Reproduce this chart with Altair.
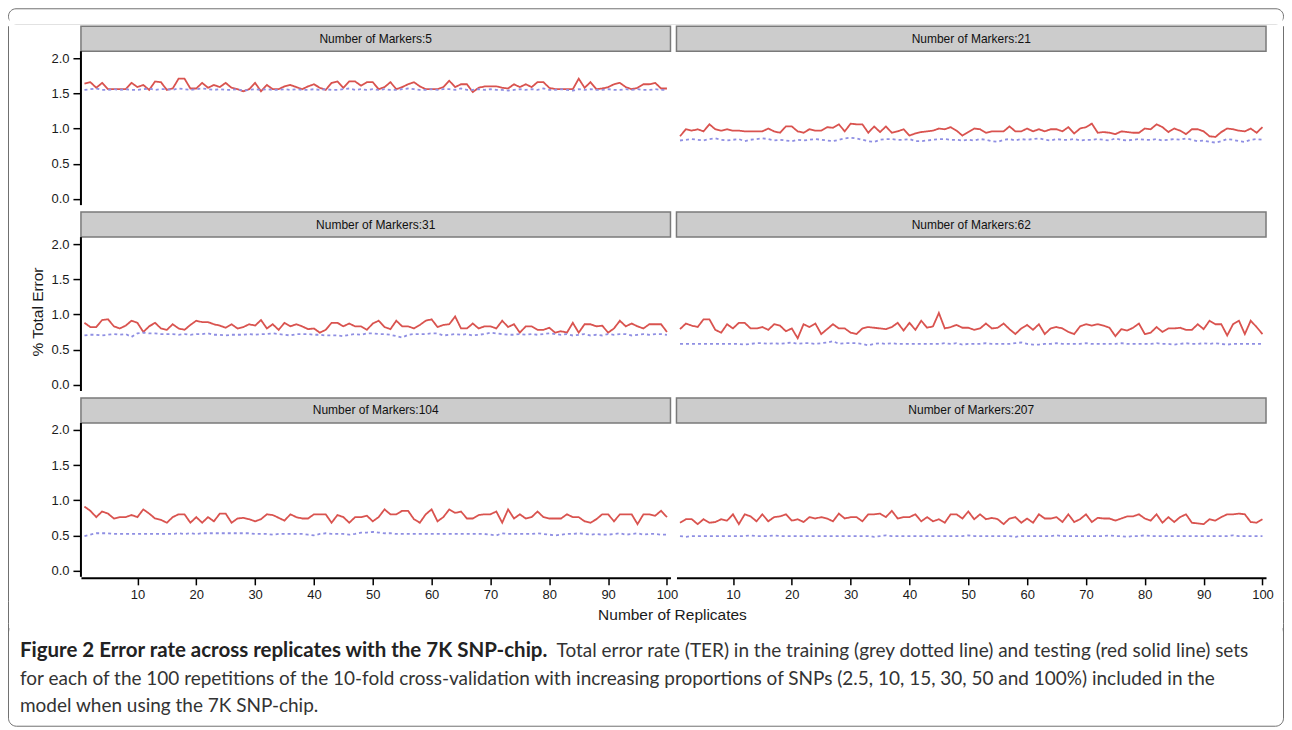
import altair as alt
import pandas as pd

replicates = list(range(1, 101))
panel_titles = ["Number of Markers:5", "Number of Markers:21", "Number of Markers:31",
                "Number of Markers:62", "Number of Markers:104", "Number of Markers:207"]
left_panels = ["Number of Markers:5", "Number of Markers:31", "Number of Markers:104"]
series_names = ["Testing", "Training"]
y_ticks = [0.0, 0.5, 1.0, 1.5, 2.0]
x_ticks = [10, 20, 30, 40, 50, 60, 70, 80, 90, 100]
y_title = "% Total Error"
x_title = "Number of Replicates"
caption_bold = "Figure 2 Error rate across replicates with the 7K SNP-chip."
caption_rest = "Total error rate (TER) in the training (grey dotted line) and testing (red solid line) sets"
caption_lines = ["for each of the 100 repetitions of the 10-fold cross-validation with increasing proportions of SNPs (2.5, 10, 15, 30, 50 and 100%) included in the",
                 "model when using the 7K SNP-chip."]

test_5 = [1.64, 1.66, 1.58, 1.65, 1.56, 1.56, 1.56, 1.56, 1.65, 1.59,
          1.62, 1.55, 1.67, 1.66, 1.55, 1.57, 1.71, 1.71, 1.57, 1.57,
          1.65, 1.58, 1.62, 1.59, 1.65, 1.58, 1.56, 1.53, 1.56, 1.65,
          1.53, 1.62, 1.56, 1.56, 1.60, 1.62, 1.59, 1.56, 1.60, 1.63,
          1.58, 1.55, 1.65, 1.67, 1.58, 1.67, 1.67, 1.61, 1.66, 1.66,
          1.56, 1.59, 1.66, 1.56, 1.59, 1.63, 1.66, 1.60, 1.56, 1.56,
          1.56, 1.59, 1.68, 1.59, 1.63, 1.63, 1.52, 1.58, 1.60, 1.60,
          1.60, 1.58, 1.57, 1.63, 1.59, 1.63, 1.59, 1.66, 1.66, 1.58,
          1.56, 1.56, 1.56, 1.56, 1.71, 1.58, 1.66, 1.56, 1.57, 1.59,
          1.63, 1.65, 1.59, 1.56, 1.58, 1.63, 1.63, 1.65, 1.57, 1.57]
train_5 = [1.55, 1.56, 1.57, 1.55, 1.55, 1.56, 1.55, 1.56, 1.55, 1.55,
           1.56, 1.57, 1.55, 1.56, 1.56, 1.55, 1.57, 1.56, 1.55, 1.56,
           1.57, 1.56, 1.55, 1.56, 1.55, 1.55, 1.56, 1.54, 1.55, 1.56,
           1.55, 1.56, 1.55, 1.55, 1.56, 1.55, 1.56, 1.55, 1.55, 1.56,
           1.55, 1.56, 1.55, 1.55, 1.56, 1.57, 1.55, 1.56, 1.55, 1.56,
           1.55, 1.56, 1.55, 1.55, 1.56, 1.57, 1.56, 1.55, 1.55, 1.56,
           1.55, 1.56, 1.56, 1.55, 1.57, 1.55, 1.55, 1.56, 1.55, 1.56,
           1.55, 1.55, 1.54, 1.55, 1.56, 1.55, 1.56, 1.55, 1.57, 1.55,
           1.55, 1.56, 1.55, 1.54, 1.56, 1.55, 1.56, 1.55, 1.55, 1.56,
           1.55, 1.55, 1.56, 1.55, 1.56, 1.55, 1.55, 1.56, 1.55, 1.55]

test_21 = [0.89, 0.99, 0.97, 0.99, 0.96, 1.06, 0.99, 0.97, 0.99, 0.97,
           0.97, 0.96, 0.96, 0.96, 0.96, 1.00, 0.96, 0.94, 1.03, 1.03,
           0.96, 0.94, 0.99, 0.97, 0.97, 1.02, 1.01, 1.06, 0.96, 1.07,
           1.06, 1.06, 0.94, 1.03, 0.95, 1.03, 0.94, 0.96, 0.99, 0.90,
           0.93, 0.95, 0.96, 0.97, 1.00, 0.99, 1.02, 0.97, 0.90, 0.95,
           1.00, 0.99, 0.94, 0.96, 0.96, 0.96, 1.03, 0.96, 0.96, 1.00,
           0.96, 0.99, 0.96, 0.99, 0.99, 0.96, 1.02, 0.93, 1.00, 1.02,
           1.07, 0.94, 0.95, 0.94, 0.92, 0.96, 0.95, 0.94, 0.94, 1.00,
           0.99, 1.06, 1.02, 0.95, 1.00, 0.97, 0.92, 0.99, 0.99, 0.96,
           0.89, 0.88, 0.95, 1.00, 0.99, 0.97, 0.96, 1.00, 0.94, 1.02]
train_21 = [0.83, 0.84, 0.85, 0.84, 0.83, 0.85, 0.86, 0.84, 0.83, 0.84,
            0.85, 0.82, 0.84, 0.85, 0.86, 0.85, 0.83, 0.84, 0.83, 0.82,
            0.84, 0.83, 0.84, 0.85, 0.84, 0.83, 0.82, 0.84, 0.86, 0.87,
            0.86, 0.84, 0.82, 0.81, 0.84, 0.85, 0.85, 0.84, 0.84, 0.85,
            0.82, 0.82, 0.83, 0.84, 0.85, 0.85, 0.84, 0.84, 0.83, 0.84,
            0.83, 0.85, 0.84, 0.82, 0.81, 0.84, 0.85, 0.83, 0.85, 0.84,
            0.85, 0.86, 0.84, 0.83, 0.85, 0.84, 0.84, 0.85, 0.83, 0.84,
            0.84, 0.85, 0.84, 0.83, 0.86, 0.84, 0.83, 0.84, 0.85, 0.84,
            0.84, 0.85, 0.83, 0.84, 0.85, 0.84, 0.86, 0.84, 0.82, 0.83,
            0.81, 0.80, 0.82, 0.85, 0.84, 0.82, 0.81, 0.84, 0.85, 0.84]

test_31 = [0.88, 0.82, 0.82, 0.92, 0.93, 0.83, 0.80, 0.84, 0.91, 0.88,
           0.75, 0.83, 0.88, 0.80, 0.78, 0.86, 0.80, 0.78, 0.85, 0.91,
           0.89, 0.89, 0.86, 0.84, 0.81, 0.86, 0.80, 0.82, 0.86, 0.84,
           0.92, 0.80, 0.86, 0.78, 0.88, 0.83, 0.86, 0.83, 0.79, 0.80,
           0.74, 0.78, 0.88, 0.88, 0.83, 0.87, 0.83, 0.83, 0.78, 0.87,
           0.91, 0.82, 0.79, 0.91, 0.83, 0.83, 0.80, 0.85, 0.91, 0.93,
           0.82, 0.85, 0.86, 0.97, 0.80, 0.80, 0.87, 0.80, 0.83, 0.83,
           0.80, 0.91, 0.82, 0.86, 0.74, 0.83, 0.83, 0.78, 0.78, 0.81,
           0.74, 0.76, 0.74, 0.88, 0.74, 0.86, 0.86, 0.83, 0.84, 0.74,
           0.80, 0.91, 0.83, 0.87, 0.83, 0.80, 0.86, 0.86, 0.86, 0.75]
train_31 = [0.70, 0.71, 0.71, 0.70, 0.71, 0.72, 0.71, 0.72, 0.68, 0.73,
            0.74, 0.73, 0.73, 0.72, 0.72, 0.72, 0.71, 0.72, 0.71, 0.72,
            0.72, 0.73, 0.71, 0.71, 0.70, 0.71, 0.71, 0.71, 0.72, 0.71,
            0.72, 0.72, 0.73, 0.72, 0.71, 0.70, 0.72, 0.72, 0.72, 0.71,
            0.71, 0.70, 0.70, 0.70, 0.69, 0.71, 0.72, 0.71, 0.73, 0.73,
            0.72, 0.72, 0.71, 0.69, 0.67, 0.71, 0.72, 0.72, 0.72, 0.73,
            0.73, 0.70, 0.71, 0.72, 0.71, 0.72, 0.70, 0.71, 0.72, 0.74,
            0.73, 0.72, 0.71, 0.71, 0.72, 0.71, 0.72, 0.71, 0.72, 0.73,
            0.72, 0.71, 0.72, 0.70, 0.71, 0.72, 0.70, 0.71, 0.70, 0.72,
            0.71, 0.72, 0.72, 0.70, 0.71, 0.72, 0.71, 0.72, 0.72, 0.71]

test_62 = [0.79, 0.87, 0.84, 0.82, 0.93, 0.93, 0.78, 0.74, 0.86, 0.80,
           0.88, 0.88, 0.80, 0.80, 0.82, 0.78, 0.86, 0.84, 0.76, 0.80,
           0.66, 0.86, 0.82, 0.87, 0.72, 0.79, 0.86, 0.80, 0.80, 0.74,
           0.72, 0.80, 0.82, 0.81, 0.80, 0.79, 0.82, 0.88, 0.77, 0.88,
           0.78, 0.91, 0.81, 0.83, 1.02, 0.80, 0.82, 0.85, 0.81, 0.81,
           0.78, 0.80, 0.87, 0.80, 0.81, 0.87, 0.79, 0.72, 0.80, 0.85,
           0.78, 0.86, 0.72, 0.80, 0.82, 0.80, 0.75, 0.72, 0.83, 0.86,
           0.84, 0.86, 0.84, 0.81, 0.69, 0.79, 0.77, 0.81, 0.87, 0.72,
           0.74, 0.82, 0.75, 0.80, 0.80, 0.81, 0.78, 0.78, 0.86, 0.79,
           0.91, 0.86, 0.86, 0.70, 0.86, 0.91, 0.72, 0.91, 0.82, 0.72]
train_62 = [0.58, 0.58, 0.58, 0.58, 0.58, 0.58, 0.58, 0.58, 0.58, 0.58,
            0.58, 0.57, 0.58, 0.59, 0.59, 0.58, 0.59, 0.58, 0.59, 0.60,
            0.58, 0.59, 0.59, 0.58, 0.59, 0.60, 0.62, 0.58, 0.59, 0.59,
            0.59, 0.58, 0.56, 0.58, 0.59, 0.58, 0.59, 0.58, 0.58, 0.58,
            0.58, 0.58, 0.58, 0.58, 0.58, 0.59, 0.58, 0.59, 0.57, 0.58,
            0.58, 0.58, 0.59, 0.58, 0.58, 0.58, 0.58, 0.59, 0.60, 0.58,
            0.57, 0.57, 0.58, 0.58, 0.59, 0.58, 0.58, 0.58, 0.58, 0.59,
            0.58, 0.58, 0.58, 0.58, 0.58, 0.59, 0.58, 0.58, 0.58, 0.58,
            0.58, 0.59, 0.58, 0.58, 0.57, 0.58, 0.59, 0.58, 0.58, 0.59,
            0.58, 0.59, 0.58, 0.57, 0.58, 0.58, 0.58, 0.58, 0.58, 0.58]

test_104 = [0.91, 0.85, 0.76, 0.84, 0.81, 0.74, 0.76, 0.76, 0.79, 0.76,
            0.87, 0.81, 0.74, 0.72, 0.68, 0.76, 0.80, 0.80, 0.68, 0.76,
            0.68, 0.76, 0.70, 0.81, 0.81, 0.68, 0.74, 0.75, 0.73, 0.70,
            0.73, 0.80, 0.79, 0.75, 0.71, 0.80, 0.76, 0.74, 0.74, 0.80,
            0.80, 0.80, 0.68, 0.79, 0.76, 0.68, 0.76, 0.76, 0.78, 0.70,
            0.76, 0.87, 0.80, 0.80, 0.85, 0.85, 0.73, 0.68, 0.80, 0.87,
            0.70, 0.76, 0.87, 0.82, 0.84, 0.74, 0.74, 0.79, 0.80, 0.80,
            0.84, 0.68, 0.87, 0.74, 0.80, 0.74, 0.76, 0.84, 0.76, 0.74,
            0.74, 0.74, 0.80, 0.76, 0.76, 0.70, 0.68, 0.73, 0.80, 0.80,
            0.70, 0.80, 0.80, 0.80, 0.66, 0.80, 0.80, 0.78, 0.85, 0.76]
train_104 = [0.49, 0.51, 0.53, 0.53, 0.53, 0.52, 0.52, 0.52, 0.52, 0.52,
             0.52, 0.52, 0.52, 0.52, 0.52, 0.52, 0.53, 0.52, 0.53, 0.52,
             0.53, 0.53, 0.53, 0.53, 0.53, 0.53, 0.53, 0.53, 0.53, 0.52,
             0.52, 0.52, 0.51, 0.52, 0.52, 0.52, 0.52, 0.52, 0.51, 0.50,
             0.52, 0.53, 0.52, 0.52, 0.52, 0.51, 0.52, 0.54, 0.54, 0.55,
             0.54, 0.53, 0.53, 0.52, 0.52, 0.52, 0.52, 0.52, 0.52, 0.52,
             0.52, 0.52, 0.52, 0.52, 0.52, 0.52, 0.52, 0.52, 0.52, 0.51,
             0.50, 0.53, 0.52, 0.52, 0.52, 0.52, 0.52, 0.53, 0.52, 0.51,
             0.50, 0.51, 0.52, 0.52, 0.53, 0.52, 0.51, 0.52, 0.51, 0.51,
             0.52, 0.53, 0.51, 0.52, 0.53, 0.51, 0.52, 0.52, 0.51, 0.51]

test_207 = [0.68, 0.73, 0.73, 0.66, 0.73, 0.68, 0.69, 0.73, 0.71, 0.80,
            0.66, 0.80, 0.77, 0.70, 0.80, 0.70, 0.76, 0.77, 0.80, 0.71,
            0.73, 0.69, 0.76, 0.74, 0.76, 0.74, 0.70, 0.81, 0.74, 0.76,
            0.76, 0.70, 0.80, 0.80, 0.81, 0.76, 0.85, 0.74, 0.76, 0.76,
            0.80, 0.70, 0.76, 0.70, 0.73, 0.68, 0.80, 0.80, 0.74, 0.84,
            0.73, 0.80, 0.73, 0.75, 0.73, 0.66, 0.74, 0.76, 0.68, 0.74,
            0.68, 0.80, 0.74, 0.74, 0.76, 0.69, 0.80, 0.69, 0.73, 0.80,
            0.69, 0.75, 0.74, 0.74, 0.71, 0.74, 0.77, 0.77, 0.80, 0.74,
            0.71, 0.80, 0.68, 0.76, 0.69, 0.76, 0.80, 0.68, 0.67, 0.66,
            0.73, 0.71, 0.76, 0.80, 0.80, 0.81, 0.80, 0.69, 0.68, 0.73]
train_207 = [0.49, 0.48, 0.49, 0.49, 0.49, 0.49, 0.49, 0.49, 0.49, 0.49,
             0.49, 0.49, 0.50, 0.49, 0.49, 0.49, 0.50, 0.49, 0.49, 0.49,
             0.49, 0.49, 0.49, 0.49, 0.49, 0.49, 0.49, 0.49, 0.49, 0.49,
             0.49, 0.49, 0.49, 0.48, 0.49, 0.50, 0.49, 0.49, 0.49, 0.49,
             0.49, 0.49, 0.49, 0.49, 0.49, 0.49, 0.49, 0.49, 0.49, 0.50,
             0.49, 0.49, 0.49, 0.49, 0.49, 0.49, 0.49, 0.48, 0.49, 0.49,
             0.49, 0.49, 0.49, 0.49, 0.50, 0.49, 0.49, 0.49, 0.49, 0.49,
             0.49, 0.49, 0.49, 0.50, 0.49, 0.49, 0.48, 0.49, 0.49, 0.50,
             0.49, 0.49, 0.49, 0.49, 0.49, 0.49, 0.49, 0.49, 0.49, 0.49,
             0.49, 0.49, 0.49, 0.49, 0.50, 0.49, 0.49, 0.49, 0.49, 0.49]

panel_data = [(test_5, train_5), (test_21, train_21), (test_31, train_31),
              (test_62, train_62), (test_104, train_104), (test_207, train_207)]

# ---- build long table from the named arrays ----
rows = []
for title, (test, train) in zip(panel_titles, panel_data):
    for rep, v in zip(replicates, test):
        rows.append({"panel": title, "rep": rep, "value": v, "series": series_names[0]})
    for rep, v in zip(replicates, train):
        rows.append({"panel": title, "rep": rep, "value": v, "series": series_names[1]})
df = pd.DataFrame(rows)

AX_FONT = "Liberation Sans"
RED = "#d9534f"
BLUE = "#8f8fe3"
FRAME = "#707070"
PW, PH, SH = 590, 154, 25
FULL_W = 1277
X_MIN, X_MAX = 0.4, 100.6
Y_MIN, Y_TOP = -0.09, 2.1
Y_STRIP = Y_TOP + SH * (Y_TOP - Y_MIN) / PH   # strip band sits above the data area
NOSTROKE = alt.ViewBackground(stroke="transparent", strokeWidth=0)
one_row = pd.DataFrame({"k": [0]})

x_scale = alt.Scale(domain=[X_MIN, X_MAX], nice=False, zero=False)
y_scale = alt.Scale(domain=[Y_MIN, Y_STRIP], nice=False, zero=False)

x_axis = alt.Axis(values=x_ticks, title=None, grid=False, domainColor="#000000",
                  domainWidth=2, tickColor="#000000", tickWidth=1.5, tickSize=7,
                  labelFont=AX_FONT, labelFontSize=13, labelColor="#1a1a1a", labelPadding=4)
y_axis = alt.Axis(values=y_ticks, format=".1f", title=None, grid=False, domain=False,
                  tickColor="#000000", tickWidth=1.5, tickSize=7, labelFont=AX_FONT,
                  labelFontSize=13, labelColor="#1a1a1a", labelPadding=4,
                  minExtent=32, maxExtent=32)

one_per_panel = (alt.datum.rep == 1) & (alt.datum.series == series_names[0])

strip_box = alt.Chart().mark_rect(fill="#cccccc", stroke="#7a7a7a", strokeWidth=1.5).encode(
    x=alt.X(datum=X_MIN, scale=x_scale, axis=x_axis),
    x2=alt.X2(datum=X_MAX),
    y=alt.Y(datum=Y_TOP, scale=y_scale, axis=y_axis),
    y2=alt.Y2(datum=Y_STRIP),
).transform_filter(one_per_panel)

strip_text = alt.Chart().mark_text(font=AX_FONT, fontSize=12, color="#111111",
                                   baseline="middle", align="center").encode(
    x=alt.X(datum=(X_MIN + X_MAX) / 2),
    y=alt.Y(datum=(Y_TOP + Y_STRIP) / 2),
    text="panel:N",
).transform_filter(one_per_panel)

lines = alt.Chart().mark_line(strokeWidth=1.8).encode(
    x=alt.X("rep:Q", scale=x_scale, axis=x_axis),
    y=alt.Y("value:Q", scale=y_scale, axis=y_axis),
    color=alt.Color("series:N", scale=alt.Scale(domain=series_names, range=[RED, BLUE]), legend=None),
    strokeDash=alt.StrokeDash("series:N", scale=alt.Scale(domain=series_names, range=[[1, 0], [3, 3]]), legend=None),
)

y_line = alt.Chart().mark_rule(color="#000000", strokeWidth=2).encode(
    x=alt.X(datum=X_MIN),
    y=alt.Y(datum=Y_MIN),
    y2=alt.Y2(datum=Y_TOP),
).transform_filter(one_per_panel).transform_filter(
    alt.FieldOneOfPredicate(field="panel", oneOf=left_panels))

grid = alt.layer(strip_box, strip_text, lines, y_line, data=df).properties(
    width=PW, height=PH + SH, view=NOSTROKE
).facet(
    facet=alt.Facet("panel:N", sort=panel_titles, title="",
                    header=alt.Header(labels=False, labelExpr="''", labelFontSize=1,
                                      labelPadding=0, titlePadding=0)),
    columns=2, spacing=4,
)


def vbar(x0, h):
    # 1px filled strip used as a vertical frame edge
    return alt.Chart(one_row).mark_rect(fill=FRAME, strokeWidth=0).encode(
        x=alt.value(x0), x2=alt.value(x0 + 1), y=alt.value(0), y2=alt.value(h))


# ---- frame pieces around the figure ----
TOP_H = 16
top_frame = alt.Chart(one_row).mark_rect(
    fill="transparent", stroke=FRAME, strokeWidth=1, cornerRadius=8
).encode(x=alt.value(0.5), x2=alt.value(FULL_W - 0.5), y=alt.value(0.5), y2=alt.value(TOP_H - 0.5))
top_cover = alt.Chart(one_row).mark_rect(fill="white", strokeWidth=0).encode(
    x=alt.value(1.5), x2=alt.value(FULL_W - 1.5), y=alt.value(9), y2=alt.value(TOP_H))
topbar = alt.layer(top_frame, top_cover).properties(width=FULL_W, height=TOP_H, view=NOSTROKE)

ROW_H = 3 * (SH + PH) + 2 * 7 + 25
ylab_text = alt.Chart(pd.DataFrame({"t": [y_title]})).mark_text(
    font=AX_FONT, fontSize=15.5, angle=270, color="#1a1a1a", baseline="middle", align="center"
).encode(text="t:N", x=alt.value(30), y=alt.value(286))
ylab = alt.layer(vbar(0, ROW_H), ylab_text).properties(width=40, height=ROW_H, view=NOSTROKE)

RP_W = 10
rightpad = vbar(RP_W - 1, ROW_H).properties(width=RP_W, height=ROW_H, view=NOSTROKE)

top = alt.hconcat(ylab, grid, rightpad, spacing=0)

XL_H = 22
xlab_text = alt.Chart(pd.DataFrame({"t": [x_title]})).mark_text(
    font=AX_FONT, fontSize=15.5, color="#1a1a1a", baseline="middle", align="center"
).encode(text="t:N", x=alt.value(665), y=alt.value(13))
xlab = alt.layer(vbar(0, XL_H), vbar(FULL_W - 1, XL_H), xlab_text).properties(
    width=FULL_W, height=XL_H, view=NOSTROKE)

CAP_H = 103
CAP_FONT = "Lato"
cap_frame = alt.Chart(one_row).mark_rect(
    fill="transparent", stroke=FRAME, strokeWidth=1, cornerRadius=8
).encode(x=alt.value(0.5), x2=alt.value(FULL_W - 0.5), y=alt.value(1), y2=alt.value(CAP_H - 0.5))
cap_cover = alt.Chart(one_row).mark_rect(fill="white", strokeWidth=0).encode(
    x=alt.value(1.5), x2=alt.value(FULL_W - 1.5), y=alt.value(0), y2=alt.value(12))
cap_left = vbar(0, 12)
cap_right = vbar(FULL_W - 1, 12)
cap_bold = alt.Chart(pd.DataFrame({"t": [caption_bold]})).mark_text(
    font=CAP_FONT, fontSize=20.5, fontWeight="bold", color="#222222", baseline="middle", align="left"
).encode(text="t:N", x=alt.value(12), y=alt.value(27))
cap_rest = alt.Chart(pd.DataFrame({"t": [caption_rest]})).mark_text(
    font=CAP_FONT, fontSize=19, color="#333333", baseline="middle", align="left"
).encode(text="t:N", x=alt.value(549), y=alt.value(27))
cap_l2 = alt.Chart(pd.DataFrame({"t": [caption_lines[0]]})).mark_text(
    font=CAP_FONT, fontSize=19, color="#333333", baseline="middle", align="left"
).encode(text="t:N", x=alt.value(12), y=alt.value(55))
cap_l3 = alt.Chart(pd.DataFrame({"t": [caption_lines[1]]})).mark_text(
    font=CAP_FONT, fontSize=19, color="#333333", baseline="middle", align="left"
).encode(text="t:N", x=alt.value(12), y=alt.value(82))
caption = alt.layer(cap_frame, cap_cover, cap_left, cap_right, cap_bold, cap_rest, cap_l2, cap_l3).properties(
    width=FULL_W, height=CAP_H, view=NOSTROKE)

chart = alt.vconcat(topbar, top, xlab, caption, spacing=0).properties(
    padding={"top": 0, "left": 0, "right": 0, "bottom": 0}
).configure_view(stroke="transparent").configure_header(
    labels=False, labelPadding=0, titlePadding=0
).configure(background="white")

chart.save("out.html", embed_options={"renderer": "svg", "actions": False})
